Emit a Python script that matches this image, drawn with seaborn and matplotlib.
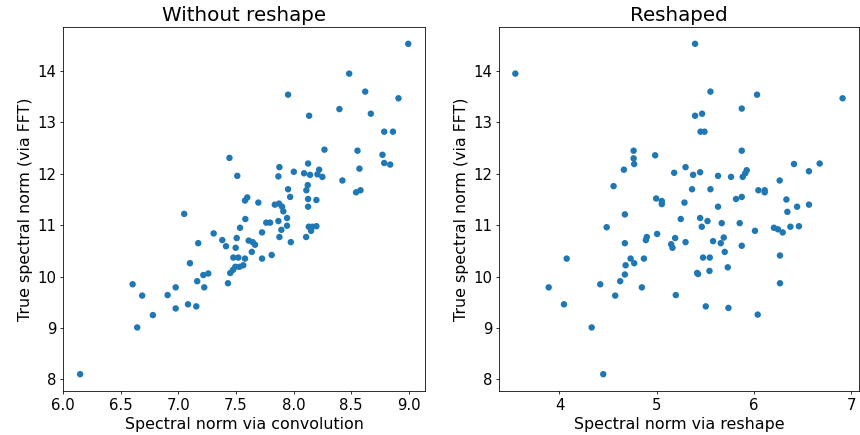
import matplotlib
matplotlib.use("Agg")
from matplotlib import pyplot as plt
import seaborn as sns
import pandas as pd

# true spectral norm (via FFT) shared by both panels is read per point
conv_x = [8.996, 8.483, 8.622, 7.952, 8.911, 8.398, 8.135, 8.671, 8.787, 8.863,
          8.268, 8.555, 8.772, 7.443, 8.787, 8.839, 7.877, 8.126, 7.511, 8.002,
          8.091, 8.143, 8.222, 8.207, 8.250, 7.868, 8.572, 8.424, 7.952, 8.123,
          8.111, 7.970, 8.543, 8.581, 7.598, 7.578, 7.694, 7.837, 7.874, 7.900,
          8.126, 8.198, 8.126, 7.911, 7.050, 7.306, 7.535, 7.381, 7.506, 7.172,
          7.413, 7.497, 7.477, 7.520, 7.100, 7.494, 7.529, 7.563, 7.474, 7.450,
          7.259, 7.216, 7.163, 7.430, 6.602, 6.976, 7.224, 6.685, 6.906, 7.083,
          7.155, 6.976, 6.778, 6.642, 6.146, 7.581, 7.943, 7.868, 7.763, 7.796,
          7.943, 8.132, 8.163, 8.198, 8.152, 7.894, 7.726, 7.877, 8.109, 7.610,
          7.645, 7.665, 7.976, 7.637, 7.810, 7.726, 7.578]
conv_y = [14.53, 13.95, 13.60, 13.54, 13.47, 13.26, 13.13, 13.17, 12.82, 12.82,
          12.47, 12.45, 12.37, 12.31, 12.21, 12.18, 12.13, 12.20, 11.96, 12.04,
          12.01, 11.98, 12.08, 11.99, 11.94, 11.95, 12.10, 11.87, 11.70, 11.78,
          11.68, 11.55, 11.64, 11.68, 11.54, 11.48, 11.44, 11.40, 11.42, 11.36,
          11.51, 11.49, 11.36, 11.27, 11.22, 10.84, 10.95, 10.71, 10.75, 10.65,
          10.59, 10.56, 10.37, 10.37, 10.26, 10.19, 10.19, 10.22, 10.13, 10.07,
          10.06, 10.03, 9.91, 9.87, 9.85, 9.79, 9.79, 9.63, 9.64, 9.46,
          9.42, 9.38, 9.25, 9.01, 8.10, 11.12, 11.14, 11.08, 11.05, 11.05,
          10.99, 10.97, 10.97, 10.98, 10.89, 10.91, 10.86, 10.77, 10.77, 10.70,
          10.67, 10.62, 10.67, 10.48, 10.42, 10.35, 10.35]

reshape_x = [3.546, 4.762, 4.762, 4.768, 4.984, 4.662, 4.556, 4.994, 5.052, 5.052,
             5.394, 5.552, 6.031, 6.911, 5.874, 5.394, 5.466, 5.450, 5.491, 5.874,
             5.179, 5.296, 5.374, 5.446, 5.630, 5.764, 5.884, 5.910, 5.925, 6.411,
             6.675, 6.565, 6.264, 5.363, 5.552, 6.045, 6.110, 6.110, 5.815, 5.874,
             5.285, 5.630, 6.333, 6.443, 6.565, 6.343, 4.672, 4.485, 5.004, 4.672,
             4.888, 4.898, 4.074, 4.731, 4.768, 4.868, 4.680, 4.672, 4.624, 4.419,
             3.889, 4.847, 4.573, 4.046, 4.331, 4.450, 5.247, 5.446, 5.522, 5.463,
             5.668, 5.853, 6.010, 6.205, 6.246, 6.295, 6.374, 6.462, 5.189, 5.148,
             5.162, 5.296, 5.579, 5.689, 5.658, 5.874, 5.699, 5.476, 5.545, 6.267,
             5.415, 5.425, 5.542, 5.730, 6.267, 5.196, 5.504, 5.737, 6.038]
reshape_y = [13.95, 12.45, 12.30, 12.19, 12.36, 12.08, 11.76, 11.52, 11.47, 11.41,
             14.53, 13.60, 13.54, 13.47, 13.27, 13.13, 13.17, 12.82, 12.82, 12.45,
             12.02, 12.13, 11.98, 12.03, 11.96, 11.94, 11.94, 12.01, 12.07, 12.19,
             12.20, 12.05, 11.87, 11.70, 11.70, 11.68, 11.68, 11.64, 11.51, 11.55,
             11.44, 11.36, 11.50, 11.36, 11.40, 11.26, 11.21, 10.96, 10.83, 10.65,
             10.71, 10.77, 10.35, 10.35, 10.26, 10.35, 10.22, 10.04, 9.91, 9.85,
             9.79, 9.79, 9.63, 9.46, 9.01, 8.10, 11.12, 11.14, 11.08, 10.97,
             11.04, 11.04, 10.89, 10.95, 10.92, 10.86, 10.97, 10.98, 10.75, 10.63,
             10.56, 10.67, 10.69, 10.76, 10.65, 10.60, 10.48, 10.37, 10.37, 10.41,
             10.07, 10.05, 10.11, 10.18, 9.87, 9.64, 9.42, 9.39, 9.26]

titles = ["Without reshape", "Reshaped"]
xlabels = ["Spectral norm via convolution", "Spectral norm via reshape"]
ylabel = "True spectral norm (via FFT)"

df_conv = pd.DataFrame({"x": conv_x, "y": conv_y})
df_resh = pd.DataFrame({"x": reshape_x, "y": reshape_y})

fig = plt.figure(figsize=(12, 6.07), dpi=860 / 12)
ax1 = fig.add_axes([0.0736, 0.1018, 0.4202, 0.8354])
ax2 = fig.add_axes([0.5802, 0.1018, 0.4186, 0.8354])

for ax, df, t, xl in zip([ax1, ax2], [df_conv, df_resh], titles, xlabels):
    sns.scatterplot(data=df, x="x", y="y", ax=ax, color="#1f77b4",
                    s=42, linewidth=0, edgecolor="none")
    ax.set_title(t, fontsize=20)
    ax.set_xlabel(xl, fontsize=16)
    ax.set_ylabel(ylabel, fontsize=16)
    ax.tick_params(labelsize=15)

ax1.set_xticks([6.0, 6.5, 7.0, 7.5, 8.0, 8.5, 9.0])
ax2.set_xticks([4, 5, 6, 7])
for ax in (ax1, ax2):
    ax.set_yticks([8, 9, 10, 11, 12, 13, 14])

fig.savefig("out.png", dpi=860 / 12)
